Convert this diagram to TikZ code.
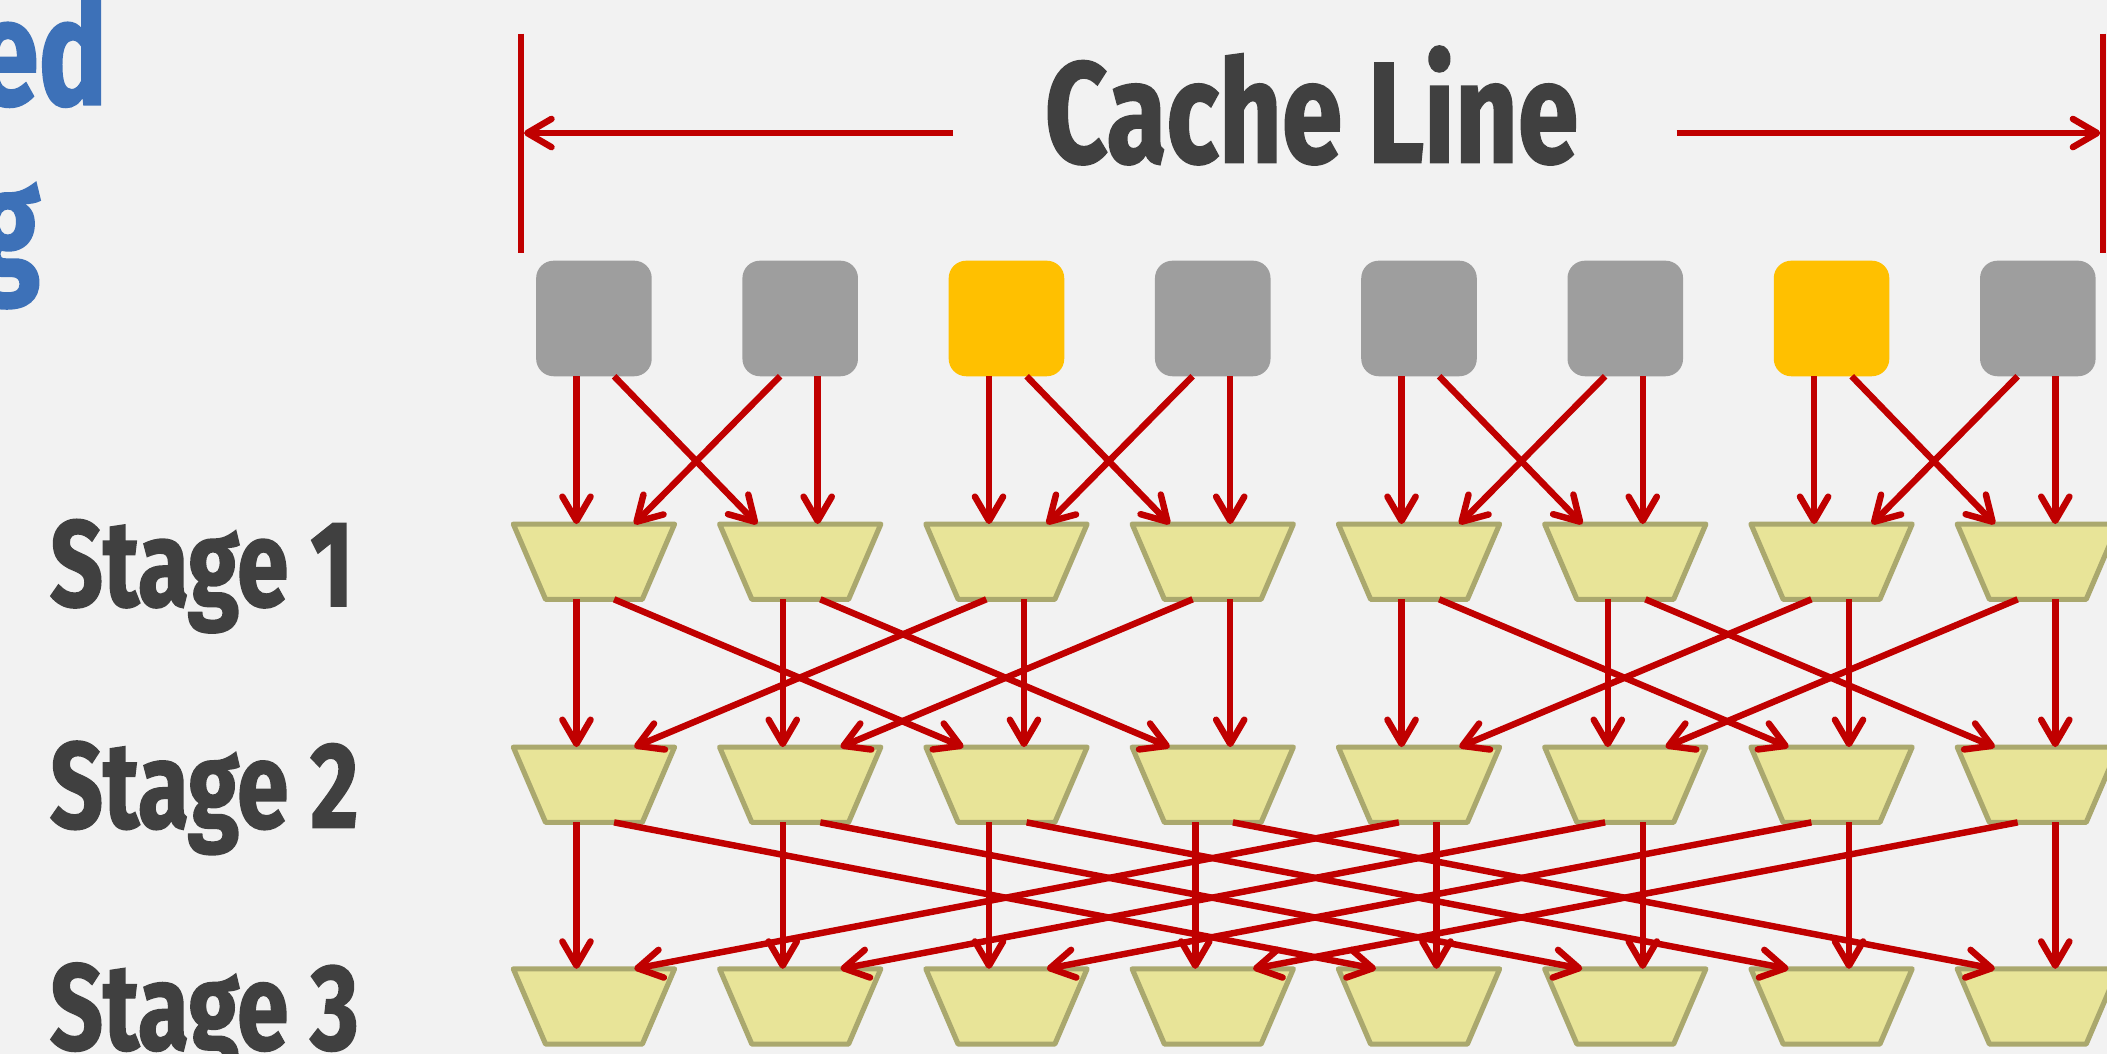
\documentclass[tikz,border=0pt]{standalone}
\usepackage{fontspec}
\setmainfont{Fira Sans}
\newfontfamily\condfont[FakeStretch=0.76, BoldFeatures={FakeBold=1.2}]{Fira Sans}
\usetikzlibrary{arrows.meta}
\definecolor{bg}{RGB}{242,242,242}
\definecolor{wire}{RGB}{192,0,0}
\definecolor{trapfill}{RGB}{232,228,152}
\definecolor{trapline}{RGB}{170,168,110}
\definecolor{cellgray}{RGB}{158,158,158}
\definecolor{cellgold}{RGB}{255,192,0}
\definecolor{txtgray}{RGB}{64,64,64}
\definecolor{ttlblue}{RGB}{61,113,184}
\begin{document}
\begin{tikzpicture}[x=1pt,y=-1pt,
  wirearrow/.style={draw=wire, line width=4.8pt, -{Straight Barb[length=18pt,width=21pt,round]}},
  barline/.style={draw=wire, line width=4.5pt},
  muxbox/.style={rectangle, minimum width=120pt, minimum height=56pt, inner sep=0pt, outer sep=0pt},
  muxshape/.style={fill=trapfill, draw=trapline, line width=3.8pt, line join=round},
  cell/.style={rectangle, rounded corners=13pt, minimum width=86pt, minimum height=86pt, inner sep=0pt, outer sep=0pt, fill=cellgray},
  goldcell/.style={cell, fill=cellgold},
  stagelbl/.style={anchor=base west, inner sep=0pt, text=txtgray, font=\condfont\bfseries\fontsize{91}{91}\selectfont},
  ttl/.style={anchor=base east, inner sep=0pt, text=ttlblue, font=\condfont\bfseries\fontsize{112}{112}\selectfont}
]
\fill[bg] (0,0) rectangle (1568,784);
\useasboundingbox (0,0) rectangle (1568,784);

% title fragments
\node[ttl] (ttlA) at (80,78) {ed};
\node[ttl] (ttlB) at (30,205) {g};

% cache line
\node[anchor=base, inner sep=0pt, text=txtgray, font=\condfont\bfseries\fontsize{107}{107}\selectfont] (cache) at (976,121) {Cache Line};
\coordinate (lbarT) at (388,25);
\coordinate (lbarB) at (388,188);
\coordinate (rbarT) at (1565,25);
\coordinate (rbarB) at (1565,188);
\coordinate (lend) at (390,99);
\coordinate (rend) at (1563,99);
\draw[barline] (lbarT) -- (lbarB);
\draw[barline] (rbarT) -- (rbarB);
\draw[wirearrow] ([xshift=-68pt]cache.west |- lend) -- (lend);
\draw[wirearrow] ([xshift=73pt]cache.east |- rend) -- (rend);

% stage labels
\node[stagelbl] (st1) at (37,451) {Stage 1};
\node[stagelbl] (st2) at (37,616) {Stage 2};
\node[stagelbl] (st3) at (37,781) {Stage 3};

% cache cells
\foreach \i in {0,...,7}{
  \pgfmathsetmacro\cx{442+153.5*\i}
  \ifnum\i=2 \def\cs{goldcell}\else\ifnum\i=6 \def\cs{goldcell}\else\def\cs{cell}\fi\fi
  \node[\cs] (n0-\i) at (\cx,237) {};
}
% muxes
\foreach \s/\yy in {1/418,2/584,3/749}{
  \foreach \i in {0,...,7}{
    \pgfmathsetmacro\cx{442+153.5*\i}
    \node[muxbox] (n\s-\i) at (\cx,\yy) {};
    \draw[muxshape] (n\s-\i.north west) -- (n\s-\i.north east)
      -- ([xshift=-24pt]n\s-\i.south east) -- ([xshift=24pt]n\s-\i.south west) -- cycle;
  }
}
% connectors
\foreach \s/\stride in {1/1,2/2,3/4}{
  \pgfmathtruncatemacro\p{\s-1}
  \foreach \i in {0,...,7}{
    \pgfmathtruncatemacro\lo{mod(floor(\i/\stride),2)==0 ? 1 : 0}
    \ifnum\lo=1
      \pgfmathtruncatemacro\j{\i+\stride}
      \draw[wirearrow] ([xshift=-13pt]n\p-\i.south) -- ([xshift=-13pt]n\s-\i.north);
      \draw[wirearrow] ([xshift=15pt]n\p-\i.south) -- ([xshift=-32pt]n\s-\j.north);
    \else
      \pgfmathtruncatemacro\j{\i-\stride}
      \draw[wirearrow] ([xshift=13pt]n\p-\i.south) -- ([xshift=13pt]n\s-\i.north);
      \draw[wirearrow] ([xshift=-15pt]n\p-\i.south) -- ([xshift=30pt]n\s-\j.north);
    \fi
  }
}
\end{tikzpicture}
\end{document}
